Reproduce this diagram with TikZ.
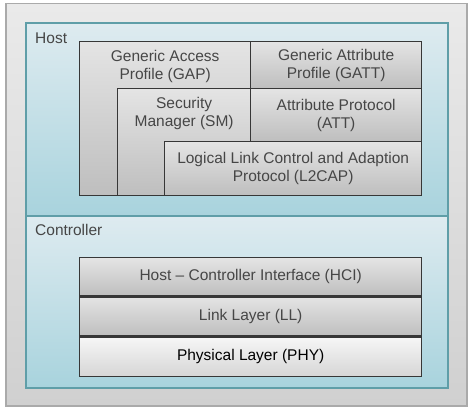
\documentclass[tikz,border=0pt]{standalone}
\usepackage{fontspec}
\setmainfont{Liberation Sans}
\usetikzlibrary{positioning,calc}

\definecolor{frametop}{RGB}{234,234,234}
\definecolor{framebot}{RGB}{208,208,208}
\definecolor{frameline}{RGB}{170,170,170}
\definecolor{areatop}{RGB}{222,235,240}
\definecolor{areabot}{RGB}{168,211,221}
\definecolor{arealine}{RGB}{95,158,168}
\definecolor{boxtop}{RGB}{228,228,228}
\definecolor{boxbot}{RGB}{190,190,190}
\definecolor{boxline}{RGB}{55,55,55}
\definecolor{boxtext}{RGB}{70,70,70}
\definecolor{phytop}{RGB}{246,246,246}
\definecolor{phybot}{RGB}{214,214,214}

\begin{document}
\begin{tikzpicture}[x=1pt,y=-1pt]
				\tikzstyle{txt}=[font=\fontsize{15.5}{18}\selectfont, text=boxtext, align=center, inner sep=0pt]
				\tikzstyle{area}=[rectangle, draw=arealine, line width=2pt, top color=areatop, bottom color=areabot, anchor=north west, inner sep=0pt]
				\tikzstyle{layer}=[txt, rectangle, draw=boxline, line width=1.3pt, top color=boxtop, bottom color=boxbot, anchor=north west]
				\useasboundingbox (0,0) rectangle (471,412);
				\node[rectangle, draw=frameline, line width=1.5pt, top color=frametop, bottom color=framebot, anchor=north west, minimum width=461pt, minimum height=402pt] (frame) at (5,3) {};
				% host part
				\node[area, minimum width=422pt, minimum height=193pt] (host) at (25,22) {};
				\node[txt, anchor=west] (hostlbl) at (35,38) {Host};
				\node[layer, minimum width=171pt, minimum height=154pt] (gap) at (79,41) {};
				\node[layer, minimum width=171pt, minimum height=47pt] (gatt) at (250,41) {Generic Attribute\\Profile (GATT)};
				\node[layer, minimum width=133pt, minimum height=107pt] (sm) at (117,88) {};
				\node[layer, minimum width=171pt, minimum height=53pt] (att) at (250,88) {Attribute Protocol\\(ATT)};
				\node[layer, minimum width=257pt, minimum height=54pt] (l2cap) at (164,141) {Logical Link Control and Adaption\\Protocol (L2CAP)};
				\node[txt] (gaplbl) at ($(gap.north)+(0,25)$) {Generic Access\\Profile (GAP)};
				\node[txt] (smlbl) at ($(sm.north)+(0,25)$) {Security\\Manager (SM)};
				% controller part
				\node[area, minimum width=422pt, minimum height=172pt] (ctrl) at (25,215) {};
				\node[txt, anchor=west] (ctrllbl) at (35,230) {Controller};
				\node[layer, minimum width=342pt, minimum height=38pt] (hci) at (79,257) {Host -- Controller Interface (HCI)};
				\node[layer, minimum width=342pt, minimum height=39pt, below=0pt of hci] (ll) {Link Layer (LL)};
				\node[layer, minimum width=342pt, minimum height=39pt, below=0pt of ll, top color=phytop, bottom color=phybot, text=black] (phy) {Physical Layer (PHY)};
			\end{tikzpicture}
\end{document}
